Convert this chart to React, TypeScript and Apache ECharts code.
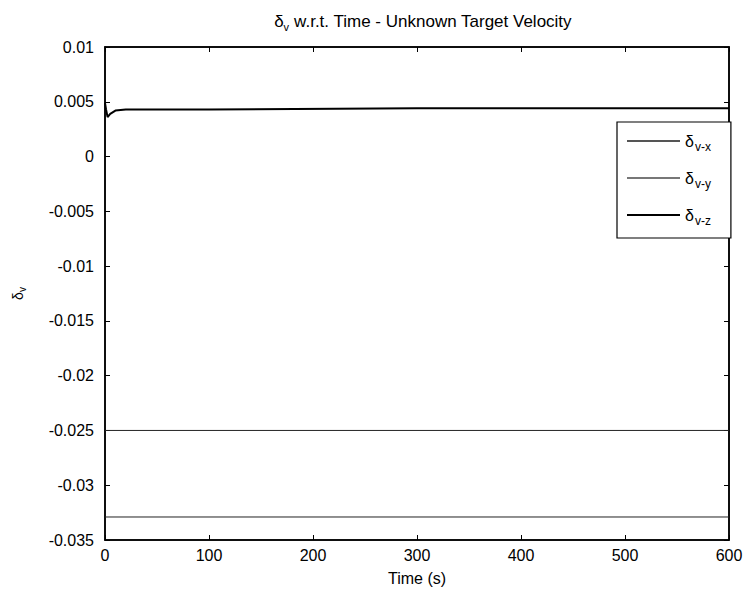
import React, { useEffect, useRef } from "react";
import * as echarts from "echarts";

const seriesNames = ["δv-x", "δv-y", "δv-z"];
const timeX = [0, 600];
const valuesX = [-0.0329, -0.0329];
const timeY = [0, 600];
const valuesY = [-0.025, -0.025];
const timeZ = [0, 1, 2.5, 5, 10, 20, 100, 300, 600];
const valuesZ = [0.0049, 0.0043, 0.0036, 0.0039, 0.0042, 0.0043, 0.0043, 0.0044, 0.0044];
const xTicks = [0, 100, 200, 300, 400, 500, 600];
const yMin = -0.035;
const yMax = 0.01;
const yStep = 0.005;

const FONT = "Liberation Sans, Arial, sans-serif";

const pairs = (t: number[], v: number[]) => t.map((x, i) => [x, v[i]]);

export default function App() {
  const ref = useRef<HTMLDivElement>(null);
  useEffect(() => {
    if (!ref.current) return;
    const chart = echarts.init(ref.current, null, { renderer: "svg" });
    const rich = {
      d: { fontFamily: FONT, fontSize: 16, color: "#000" },
      s: { fontFamily: FONT, fontSize: 12, color: "#000", padding: [12, 0, 0, 1] },
    };
    const axisCommon = {
      axisLine: { show: true, onZero: false, lineStyle: { color: "#000", width: 1.5 } },
      axisTick: { show: true, inside: true, length: 5, lineStyle: { color: "#000" } },
      splitLine: { show: false },
    };
    chart.setOption({
      animation: false,
      backgroundColor: "#fff",
      title: {
        text: "{d|δ}{s|v}{t| w.r.t. Time - Unknown Target Velocity}",
        left: 418,
        textAlign: "center",
        top: 6,
        textStyle: {
          fontWeight: "normal",
          rich: {
            d: { fontFamily: FONT, fontSize: 17, color: "#000" },
            s: { fontFamily: FONT, fontSize: 11, color: "#000", padding: [10, 0, 0, 0] },
            t: { fontFamily: FONT, fontSize: 17, color: "#000" },
          },
        },
      },
      legend: {
        data: seriesNames.map((n) => ({ name: n, icon: "rect" })),
        orient: "vertical",
        left: 617,
        top: 122,
        padding: [11, 20, 11, 10],
        itemGap: 17,
        itemWidth: 53,
        itemHeight: 2,
        borderColor: "#000",
        borderWidth: 1.2,
        backgroundColor: "#fff",
        formatter: (name: string) => `{d|δ}{s|${name.slice(1)}}`,
        textStyle: { rich },
      },
      grid: { left: 105, right: 19, top: 47, bottom: 58, show: true, borderColor: "#000", borderWidth: 1.5 },
      xAxis: [
        {
          type: "value",
          min: xTicks[0],
          max: xTicks[xTicks.length - 1],
          interval: 100,
          name: "Time (s)",
          nameLocation: "middle",
          nameGap: 30,
          nameTextStyle: { fontFamily: FONT, fontSize: 16, color: "#000" },
          axisLabel: { fontFamily: FONT, fontSize: 16, color: "#000", margin: 7 },
          ...axisCommon,
        },
        {
          type: "value",
          position: "top",
          min: xTicks[0],
          max: xTicks[xTicks.length - 1],
          interval: 100,
          axisLabel: { show: false },
          ...axisCommon,
        },
      ],
      yAxis: [
        {
          type: "value",
          min: yMin,
          max: yMax,
          interval: yStep,
          name: "{d|δ}{s|v}",
          nameLocation: "middle",
          nameGap: 78,
          nameRotate: 90,
          nameTextStyle: {
            rich: {
              d: { fontFamily: FONT, fontSize: 14, color: "#000" },
              s: { fontFamily: FONT, fontSize: 10, color: "#000", padding: [8, 0, 0, 0] },
            },
          },
          axisLabel: {
            fontFamily: FONT,
            fontSize: 16,
            color: "#000",
            margin: 11,
            formatter: (v: number) => {
              const r = Math.round(v * 1000) / 1000;
              return r === 0 ? "0" : String(r);
            },
          },
          ...axisCommon,
        },
        {
          type: "value",
          position: "right",
          min: yMin,
          max: yMax,
          interval: yStep,
          axisLabel: { show: false },
          ...axisCommon,
        },
      ],
      series: [
        {
          name: seriesNames[0],
          type: "line",
          data: pairs(timeX, valuesX),
          symbol: "none",
          lineStyle: { color: "#222", width: 1 },
          itemStyle: { color: "#555" },
        },
        {
          name: seriesNames[1],
          type: "line",
          data: pairs(timeY, valuesY),
          symbol: "none",
          lineStyle: { color: "#222", width: 1 },
          itemStyle: { color: "#777" },
        },
        {
          name: seriesNames[2],
          type: "line",
          data: pairs(timeZ, valuesZ),
          symbol: "none",
          lineStyle: { color: "#000", width: 2 },
          itemStyle: { color: "#000" },
        },
      ],
    });
    return () => chart.dispose();
  }, []);
  return <div ref={ref} style={{ width: 748, height: 598, position: "absolute", left: 0, top: 0 }} />;
}
